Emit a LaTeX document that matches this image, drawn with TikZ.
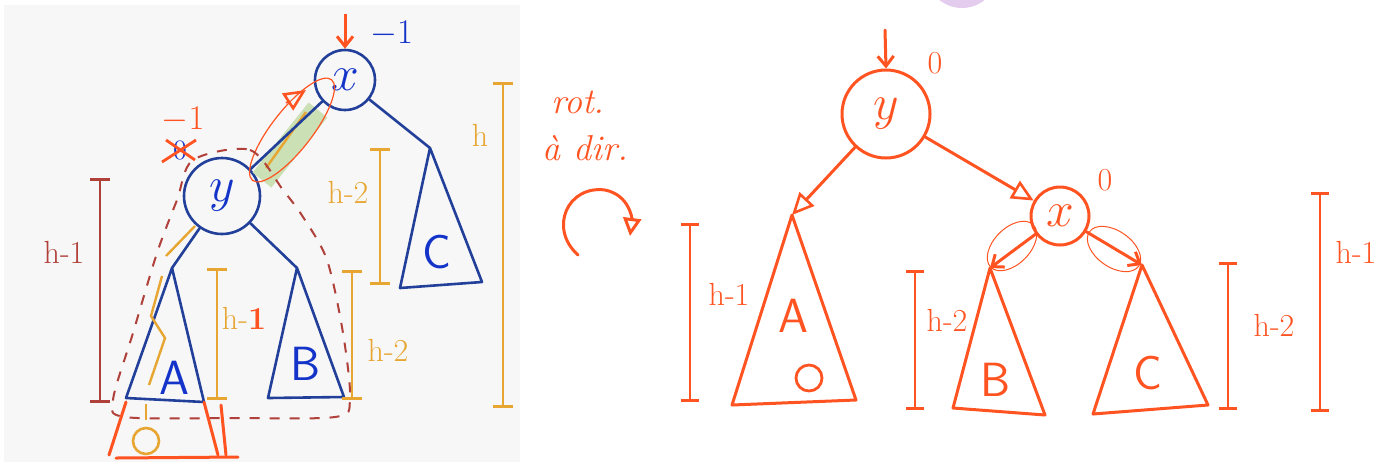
\documentclass[tikz,border=0pt]{standalone}
\usepackage{tikz}
\usetikzlibrary{positioning,arrows.meta}

\definecolor{inkblue}{HTML}{22409A}
\definecolor{letterblue}{HTML}{1433C8}
\definecolor{goldline}{HTML}{E7A531}
\definecolor{brickred}{HTML}{B0403A}
\definecolor{penred}{HTML}{FF5422}
\definecolor{hlgreen}{HTML}{CBE0B5}
\definecolor{paper}{HTML}{F7F7F7}
\definecolor{lilac}{HTML}{E4CCEF}

\begin{document}
\begin{tikzpicture}[x=0.5pt,y=-0.5pt]
\tikzset{
    bluetree/.style={draw=inkblue, line width=1.3pt, line cap=round, line join=round},
    bluenode/.style={circle, draw=inkblue, line width=1.3pt, inner sep=0pt, text=letterblue, font=\fontsize{26}{28}\selectfont},
    redtree/.style={draw=penred, line width=1.5pt, line cap=round, line join=round},
    rednode/.style={circle, draw=penred, line width=1.5pt, inner sep=0pt, text=penred, font=\fontsize{26}{28}\selectfont},
    letter/.style={font=\fontsize{24}{26}\selectfont\sffamily},
    hlabel/.style={font=\fontsize{16}{18}\selectfont},
    goldbar/.style={draw=goldline, line width=1.3pt, {Bar[width=10pt]}-{Bar[width=10pt]}},
    brickbar/.style={draw=brickred, line width=1.3pt, {Bar[width=10pt]}-{Bar[width=10pt]}},
    redbar/.style={draw=penred, line width=1.3pt, {Bar[width=9pt]}-{Bar[width=9pt]}},
    openhead/.style={-{Triangle[open, length=11pt, width=10pt, line width=1.3pt]}},
    smallhead/.style={-{Straight Barb[length=5pt, width=8pt]}}
}
\useasboundingbox (0,0) rectangle (1379,462);
\fill[paper] (4,5) rectangle (520,462);
\fill[lilac] (962,-28) circle (36);

% left: before rotation
\node[bluenode, minimum size=30pt] (x) at (345,80) {$x$};
\node[bluenode, minimum size=38pt] (y) at (222,196) {$y$};
\coordinate (Atop) at (172,268);
\coordinate (Btop) at (297,268);
\coordinate (Ctop) at (430,148);

\draw[hlgreen, line width=12pt] (262,180) -- (318,110);
\draw[goldline, line width=1.2pt] (266,168) -- (306,112);
\draw[bluetree] (y) -- (x);
\draw[penred, line width=0.6pt, rotate around={52:(292,130)}] (292,130) ellipse (64 and 20);
\draw[penred, line width=0.8pt, openhead] (286,103) -- (306,90);

\draw[bluetree] (y) -- (Atop);
\draw[bluetree] (y) -- (Btop);
\draw[bluetree] (x) -- (Ctop);
\draw[bluetree] (Atop) -- (126,398) -- (204,402) -- cycle;
\draw[bluetree] (Btop) -- (268,398) -- (344,397) -- cycle;
\draw[bluetree] (Ctop) -- (400,288) -- (482,282) -- cycle;
\node[letter, text=letterblue] (A) at (174,378) {A};
\node[letter, text=letterblue] (B) at (306,364) {B};
\node[letter, text=letterblue] (C) at (437,252) {C};

% height path down the left
\draw[goldline, line width=1.2pt] (195,226) -- (166,256);
\draw[goldline, line width=1.2pt] (162,276) -- (151,316) -- (165,338) -- (149,385);
\draw[goldline, line width=1.2pt] (146,404) -- (146,420);
\node[circle, draw=goldline, line width=1.3pt, minimum size=13pt] (nul) at (146,441) {};

% outline of subtree y
\draw[brickred, line width=1pt, dash pattern=on 5pt off 5pt] plot[smooth cycle, tension=0.5] coordinates {(193,160) (250,150) (283,190) (303,217) (327,260) (343,333) (350,400) (335,417) (230,418) (125,417) (113,400) (133,333) (157,253) (177,200)};

% red extension under A
\draw[redtree] (126,402) -- (109,455);
\draw[redtree] (204,402) -- (218,455);
\draw[redtree] (221,405) -- (226,455);
\draw[redtree] (116,458) -- (238,457);

% balance marks
\draw[penred, line width=1.5pt, smallhead] (345,14) -- (x.north);
\node[hlabel, text=letterblue, right=-2pt of x.north east, yshift=12pt] (bx) {$-1$};
\node[hlabel, text=penred, font=\fontsize{18}{20}\selectfont\bfseries] (by) at (183,120) {$-1$};
\node[text=letterblue, font=\fontsize{14}{16}\selectfont] (oldy) at (180,150) {0};
\draw[penred, line width=1.4pt] (162,162) -- (196,140);
\draw[penred, line width=1.4pt] (166,140) -- (195,160);

% heights
\draw[brickbar] (100,178) -- (100,403);
\node[hlabel, text=brickred] (hl) at (64,252) {h-1};
\draw[goldbar] (217,268) -- (217,400);
\node[hlabel] (ha) at (244,318) {\color{goldline}h-\color{penred}\textbf{1}};
\draw[goldbar] (352,270) -- (352,400);
\node[hlabel, text=goldline] (hb) at (388,350) {h-2};
\draw[goldbar] (380,148) -- (380,285);
\node[hlabel, text=goldline] (hc) at (348,192) {h-2};
\draw[goldbar] (503,82) -- (503,408);
\node[hlabel, text=goldline] (hh) at (480,135) {h};

% right: after rotation
\node[text=penred, font=\fontsize{18}{20}\selectfont\itshape] (rot) at (578,102) {rot.};
\node[text=penred, font=\fontsize{18}{20}\selectfont\itshape, below right=4pt and -38pt of rot] (dir) {à dir.};
\draw[redtree, -{Triangle[open, length=9pt, width=9pt]}] (578,255) .. controls (548,228) and (568,185) .. (605,190) .. controls (630,195) and (632,220) .. (630,236);

\node[rednode, minimum width=38pt, minimum height=44pt] (y2) at (886,114) {$y$};
\node[rednode, minimum size=29pt] (x2) at (1060,216) {$x$};
\coordinate (A2top) at (792,215);
\coordinate (B2top) at (990,268);
\coordinate (C2top) at (1142,265);

\draw[redtree, smallhead] (885,30) -- (y2.north);
\node[text=penred, font=\fontsize{16}{18}\selectfont] (by2) at (935,63) {0};
\node[text=penred, font=\fontsize{16}{18}\selectfont] (bx2) at (1105,180) {0};

\draw[redtree, openhead] (y2) -- (A2top);
\draw[redtree, openhead] (y2) -- (x2);
\draw[redtree, smallhead] (x2) -- (B2top);
\draw[redtree, smallhead] (x2) -- (C2top);
\draw[penred, line width=0.5pt, rotate around={45:(1012,246)}] (1012,246) ellipse (30 and 18);
\draw[penred, line width=0.5pt, rotate around={-35:(1114,249)}] (1114,249) ellipse (30 and 18);

\draw[redtree] (A2top) -- (732,405) -- (856,400) -- cycle;
\draw[redtree] (B2top) -- (953,408) -- (1045,415) -- cycle;
\draw[redtree] (C2top) -- (1093,414) -- (1208,405) -- cycle;
\node[letter, text=penred] (A2) at (793,316) {A};
\node[circle, draw=penred, line width=1.4pt, minimum size=13pt] (nul2) at (809,378) {};
\node[letter, text=penred] (B2) at (996,380) {B};
\node[letter, text=penred] (C2) at (1148,373) {C};

\draw[redbar] (690,223) -- (690,402);
\node[hlabel, text=penred] (ha2) at (729,294) {h-1};
\draw[redbar] (915,270) -- (915,410);
\node[hlabel, text=penred] (hb2) at (947,320) {h-2};
\draw[redbar] (1228,262) -- (1228,410);
\node[hlabel, text=penred] (hc2) at (1274,325) {h-2};
\draw[redbar] (1320,192) -- (1320,412);
\node[hlabel, text=penred] (hh2) at (1356,252) {h-1};
\end{tikzpicture}
\end{document}
